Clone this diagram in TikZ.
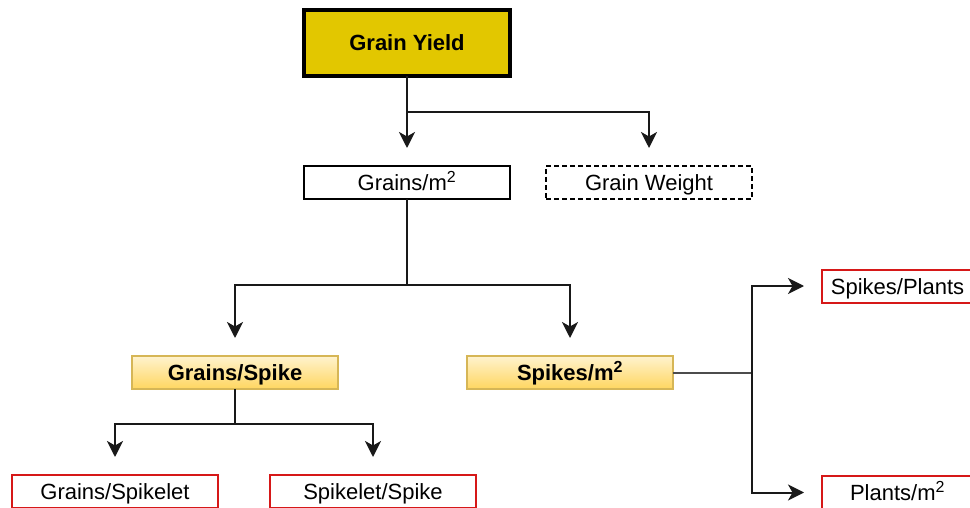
\documentclass[tikz,border=0pt]{standalone}
\usepackage{fontspec}
\setmainfont{Liberation Sans}
\usetikzlibrary{arrows.meta,positioning}

\definecolor{yieldgold}{RGB}{226,199,0}
\definecolor{boxred}{RGB}{214,24,24}
\definecolor{spiketop}{RGB}{255,243,206}
\definecolor{spikebot}{RGB}{255,214,96}
\definecolor{spikeedge}{RGB}{214,182,86}

\newcommand{\sqm}{m\textsuperscript{\fontsize{16}{16}\selectfont 2}}

\begin{document}
\begin{tikzpicture}[
    x=1pt, y=1pt,
    every node/.style={
        font=\fontsize{22}{26}\selectfont,
        text height=16pt,
        text depth=0pt,
        inner sep=0pt,
        outer sep=0pt
    },
    yieldbox/.style={draw=black, line width=4pt, fill=yieldgold,
        minimum width=206pt, minimum height=66pt, font=\fontsize{22}{26}\selectfont\bfseries},
    plainbox/.style={draw=black, line width=2pt, minimum width=206pt, minimum height=33pt},
    weightbox/.style={plainbox, dash pattern=on 5pt off 3pt},
    spikebox/.style={draw=spikeedge, line width=2pt, top color=spiketop, bottom color=spikebot,
        minimum width=206pt, minimum height=33pt, font=\fontsize{22}{26}\selectfont\bfseries},
    redbox/.style={draw=boxred, line width=2pt, minimum width=206pt, minimum height=33pt},
    link/.style={line width=2pt, draw=black!90},
    arr/.style={link, -{Stealth[length=16pt, width=16pt, inset=4.5pt]}, shorten >=18pt}
    ]

    \useasboundingbox (0,0) rectangle (970,-508);
    \clip (0,0) rectangle (970,-508);

    \node[yieldbox] (GY) at (407,-43) {Grain Yield};

    \node[plainbox, below=90pt of GY] (Gm2) {Grains/\sqm};
    \node[weightbox, right=36pt of Gm2] (GWt) {Grain Weight};

    \node[spikebox, below=157pt of Gm2, xshift=-172pt] (GSp) {Grains/Spike};
    \node[spikebox, right=129pt of GSp] (Spm2) {Spikes/\sqm};

    \node[redbox, below=86pt of GSp, xshift=-120pt] (GSl) {Grains/Spikelet};
    \node[redbox, right=52pt of GSl] (SlS) {Spikelet/Spike};

    \node[redbox, minimum width=165pt, right=149pt of Spm2, yshift=86.5pt] (SpP) {\hspace*{-14pt}Spikes/Plants};
    \node[redbox, minimum width=165pt, below=173.5pt of SpP] (PlM) {\hspace*{-14pt}Plants/\sqm};

    % junctions
    \coordinate[below=36pt of GY] (j1);
    \coordinate[below=86pt of Gm2] (j2);
    \coordinate[below=35pt of GSp] (j3);
    \coordinate[right=79pt of Spm2] (j4);

    \draw[arr] (GY.south) -- (Gm2.north);
    \draw[arr] (j1) -| (GWt.north);

    \draw[link] (Gm2.south) -- (j2);
    \draw[arr] (j2) -| (GSp.north);
    \draw[arr] (j2) -| (Spm2.north);

    \draw[link] (GSp.south) -- (j3);
    \draw[arr] (j3) -| (GSl.north);
    \draw[arr] (j3) -| (SlS.north);

    \draw[link, draw=black!70] (Spm2.east) -- (j4);
    \draw[arr] (j4) |- (SpP.west);
    \draw[arr] (j4) |- (PlM.west);
\end{tikzpicture}
\end{document}
